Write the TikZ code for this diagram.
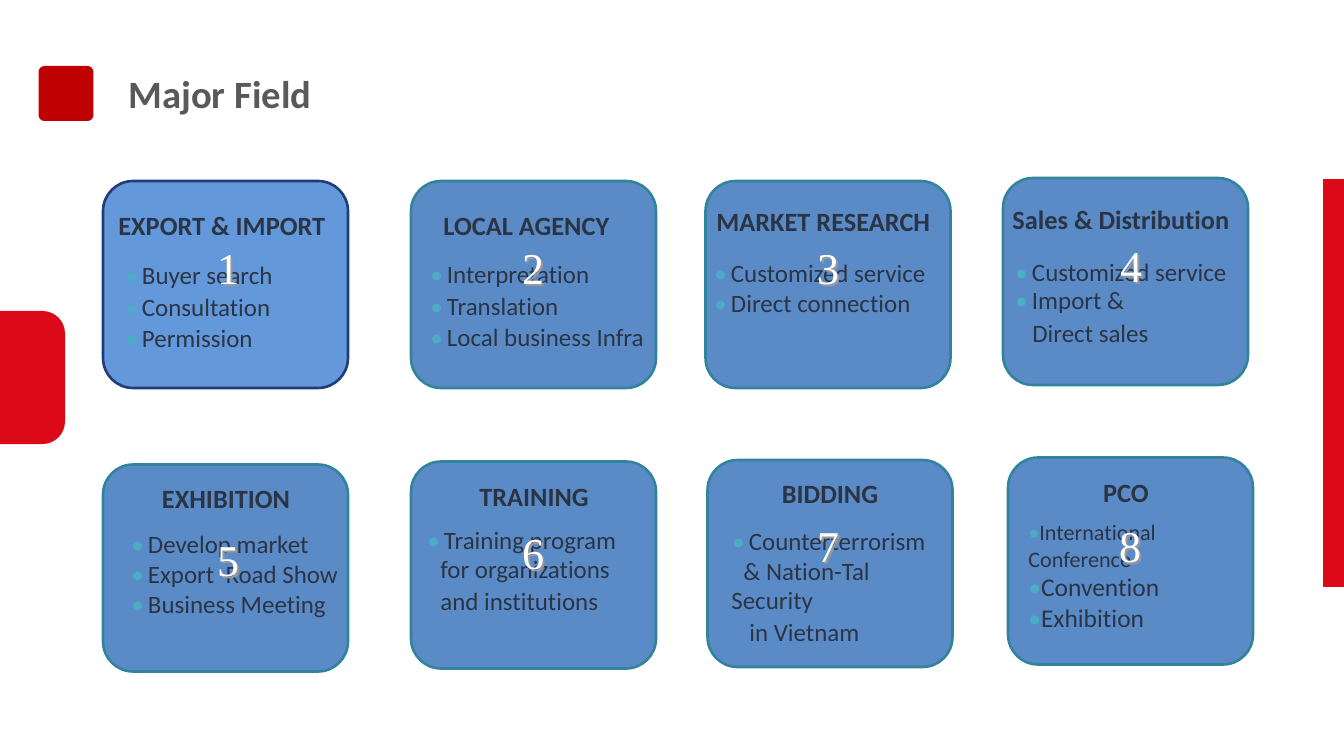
\documentclass[tikz,border=0pt]{standalone}
\usepackage{fontspec}
\setmainfont{Carlito}[Ligatures=NoCommon]
\newfontfamily\numfont{Liberation Serif}

\definecolor{fieldred}{HTML}{C00000}
\definecolor{tabred}{HTML}{DC0A18}
\definecolor{boxfill}{HTML}{5B8BC7}
\definecolor{boxedge}{HTML}{31849B}
\definecolor{firstfill}{HTML}{6399DA}
\definecolor{firstedge}{HTML}{1F3D78}
\definecolor{inktext}{HTML}{2B3444}
\definecolor{dotcol}{HTML}{4BACC6}
\definecolor{headgray}{HTML}{595959}

\newcommand{\bul}{{\color{dotcol}\textbullet}\,}

\tikzset{
  fieldbox/.style={draw=boxedge, line width=1.5pt, fill=boxfill, rounded corners=0.6cm,
    minimum width=4.9cm, minimum height=4.14cm, inner sep=0pt},
  boxhead/.style={text=inktext, font=\bfseries\fontsize{15}{18}\selectfont, inner sep=0pt},
  boxitem/.style={text=inktext, font=\fontsize{14.2}{17}\selectfont, anchor=west, inner sep=0pt},
  boxnum/.style={text=white, font=\numfont\fontsize{25}{25}\selectfont, inner sep=0pt},
  numshade/.style={boxnum, text=black!40},
}

\begin{document}
\begin{tikzpicture}[x=0.02cm, y=-0.02cm]
\useasboundingbox (0,0) rectangle (1344,756);

% Heading
\node (mark) at (66,93.5) [fill=fieldred, rounded corners=0.12cm, minimum size=1.1cm, inner sep=0pt]{};
\node (head) at (128,98) [anchor=west, inner sep=0pt, text=headgray, font=\bfseries\fontsize{22}{24}\selectfont]{Major Field};

% Side tabs
\begin{scope}
    \clip (0,0) rectangle (1344,756);
    \fill[tabred, rounded corners=0.45cm] (-40,311) rectangle (65,444);
\end{scope}
\fill[tabred] (1323,179) rectangle (1344,587);

% Top row
\node (f1) at (225.5,284.5) [fieldbox, fill=firstfill, draw=firstedge]{};
\node (f2) at (533.5,284.5) [fieldbox]{};
\node (f3) at (828,284.5) [fieldbox]{};
\node (f4) at (1125.5,281.5) [fieldbox]{};

% Bottom row
\node (f5) at (225.5,568) [fieldbox]{};
\node (f6) at (533.5,565) [fieldbox]{};
\node (f7) at (830,563.5) [fieldbox]{};
\node (f8) at (1130.5,561) [fieldbox]{};

% Box 1
\node (h1) at (118,227) [boxhead, anchor=west]{EXPORT \& IMPORT};
\node (a1) at (125,278) [boxitem]{\bul Buyer search};
\node (b1) at (125,308) [boxitem]{\bul Consultation};
\node (c1) at (125,339) [boxitem]{\bul Permission};

% Box 2
\node (h2) at (443,227) [boxhead, anchor=west]{LOCAL AGENCY};
\node (a2) at (430,277) [boxitem]{\bul Interpretation};
\node (b2) at (430,307) [boxitem]{\bul Translation};
\node (c2) at (430,338) [boxitem]{\bul Local business Infra};

% Box 3
\node (h3) at (716,223) [boxhead, anchor=west]{MARKET RESEARCH};
\node (a3) at (714,274) [boxitem]{\bul Customized service};
\node (b3) at (714,304) [boxitem]{\bul Direct connection};

% Box 4
\node (h4) at (1012,220) [boxhead, anchor=west]{Sales \& Distribution};
\node (a4) at (1015,273) [boxitem]{\bul Customized service};
\node (b4) at (1015,303) [boxitem]{\bul Import \&};
\node (c4) at (1032,334) [boxitem]{Direct sales};

% Box 5
\node (h5) at (226,500) [boxhead]{EXHIBITION};
\node (a5) at (131,547) [boxitem]{\bul Develop market};
\node (b5) at (131,577) [boxitem]{\bul Export\ \ Road Show};
\node (c5) at (131,607) [boxitem]{\bul Business Meeting};

% Box 6
\node (h6) at (534,498) [boxhead]{TRAINING};
\node (a6) at (427,543) [boxitem]{\bul Training program};
\node (b6) at (440,572) [boxitem]{for organizations};
\node (c6) at (440,602) [boxitem]{and institutions};

% Box 7
\node (h7) at (830,495) [boxhead]{BIDDING};
\node (a7) at (732,542) [boxitem]{\bul Counterterrorism};
\node (b7) at (743,572) [boxitem]{\& Nation-Tal};
\node (c7) at (731,603) [boxitem]{Security};
\node (d7) at (749,633) [boxitem]{in Vietnam};

% Box 8
\node (h8) at (1126,494) [boxhead]{PCO};
\node (a8) at (1028,533) [boxitem, font=\fontsize{12.6}{15}\selectfont]{{\color{dotcol}\textbullet}International};
\node (b8) at (1028,560) [boxitem, font=\fontsize{12.6}{15}\selectfont]{Conference};
\node (c8) at (1028,588) [boxitem, font=\fontsize{14.5}{17}\selectfont]{{\color{dotcol}\textbullet}Convention};
\node (d8) at (1028,619) [boxitem, font=\fontsize{14.5}{17}\selectfont]{{\color{dotcol}\textbullet}Exhibition};

% Numbers
\foreach \k/\nx/\ny in {1/228/270, 2/533/270, 3/828/270, 4/1131/268,
                        5/228/562, 6/533/555, 7/828/548, 8/1130/548}{
    \node (s\k) at (\nx+2,\ny+2) [numshade]{\k};
    \node (n\k) at (\nx,\ny) [boxnum]{\k};
}
\end{tikzpicture}
\end{document}
